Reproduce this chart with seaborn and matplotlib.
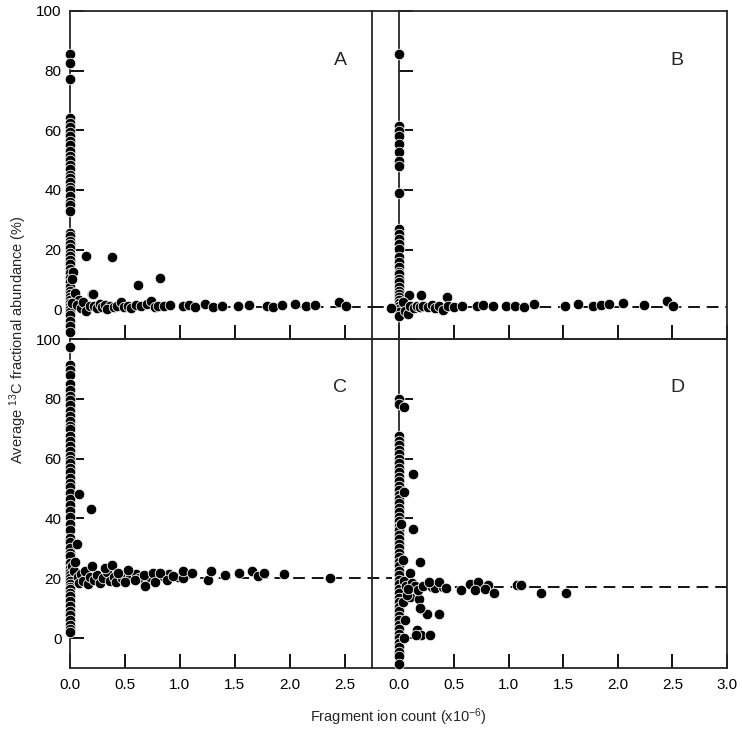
import matplotlib
matplotlib.use("Agg")
import matplotlib.pyplot as plt
import numpy as np
import pandas as pd
import seaborn as sns

# ---------------------------------------------------------------------------
# Data (x in 10^6 ion counts, y in % 13C)
# ---------------------------------------------------------------------------
PANELS = ["A", "B", "C", "D"]
MEAN_LINE = {"A": 0.8, "B": 0.8, "C": 20.0, "D": 17.0}

# points stacked on x = 0
a_col_y = [85.7, 82.4, 77.3, 64, 62.5, 61, 59.5, 58, 56.5, 55, 53, 51.5, 50, 48.5,
           47, 45, 44, 42.5, 41, 40, 38, 36, 35, 33, 25.5, 24.5, 23, 22, 20.5, 19,
           18, 16.5, 15, 13.5, 12, 10.5, 9, 7.5, 6, 5, 4, 3, 2, 1, 0, -1, -2, -4,
           -5.5, -7.5]
b_col_y = [85.7, 61.5, 59.8, 58.2, 55.4, 52.6, 49.7, 48.1, 38.8, 26.8, 25.2, 23.5,
           21.8, 20.2, 17.4, 15.7, 14, 12.5, 11.8, 10, 9, 7.3, 6, 5, 4, 3, 2, 1, 0,
           -1, -2.4]
c_col_y = [97.4, 91.3, 89.6, 87.9, 85, 83, 80.9, 79.5, 77.8, 76, 74.4, 72.5, 71,
           69.9, 67.7, 66, 64.3, 62.5, 61, 59.5, 58.7, 57, 55.4, 53.5, 52, 50.5,
           48.6, 46.4, 44.5, 42.5, 40.5, 38, 36, 33.5, 32, 30.2, 28.5, 27.4, 25.1,
           23.5, 22, 21, 20, 19, 18, 17, 16.3, 15, 14, 12.5, 10.6, 9, 7.8, 6, 4.4,
           3, 2.1]
d_col_y = [80, 78.3, 67.7, 66, 64.5, 63, 61.5, 60, 58.5, 57, 55.5, 54, 52.5, 51,
           49.5, 48, 46.5, 45, 43.5, 42, 40.5, 39, 37.5, 36, 34.5, 33, 31.5, 30,
           28.5, 27, 25.5, 24, 22.5, 21, 19.5, 18, 16.5, 15, 13.5, 12, 10.5, 9, 7.5,
           6, 4.5, 3, 1.5, 0, -1.5, -3, -4.5, -6, -8.5]

# scattered points
a_x = [0.03, 0.02, 0.05, 0.08, 0.02, 0.06, 0.10, 0.12, 0.15, 0.18, 0.20, 0.22,
       0.25, 0.27, 0.29, 0.32, 0.36, 0.34, 0.40, 0.43, 0.46, 0.49, 0.53, 0.56,
       0.60, 0.65, 0.70, 0.74, 0.77, 0.80, 0.86, 0.91,
       0.143, 0.38, 0.62, 0.82, 0.21,
       1.03, 1.08, 1.14, 1.23, 1.305, 1.38, 1.53, 1.63, 1.79, 1.85, 1.93, 2.05,
       2.15, 2.23, 2.45, 2.51]
a_y = [12.5, 10, 5.5, 3, 2, 1.5, 0.5, 2.5, -0.5, 1, 5, 1.2,
       0.3, 1.8, 0.8, 1.5, 1.2, 0.2, 0.6, 1.0, 2.4, 0.7, 1.1, 0.5,
       1.3, 0.9, 1.8, 2.7, 0.6, 1.0, 1.2, 1.5,
       17.8, 17.5, 8.0, 10.5, 5.0,
       0.9, 1.4, 0.7, 1.6, 0.8, 1.1, 0.9, 1.5, 1.0, 0.7, 1.4, 1.6,
       0.9, 1.3, 2.4, 0.9]

b_x = [-0.08, 0.085, 0.2, 0.436, 0.03, 0.05, 0.08, 0.10, 0.13, 0.16, 0.19, 0.22,
       0.26, 0.30, 0.33, 0.36, 0.40, 0.45, 0.50,
       0.573, 0.71, 0.77, 0.86, 0.98, 1.06, 1.14, 1.23, 1.517, 1.633, 1.77, 1.85,
       1.92, 2.05, 2.24, 2.45, 2.51]
b_y = [0.4, 4.9, 4.9, 4.0, 2.5, -0.5, -1.5, 1.0, 0.3, 1.2, 0.6, 1.1,
       0.8, 1.3, 0.4, 1.0, -0.4, 0.9, 0.7,
       1.2, 1.2, 1.4, 1.2, 1.2, 1.2, 0.8, 1.6, 1.0, 1.6, 1.2, 1.3,
       1.7, 2.0, 1.4, 2.8, 0.9]

c_x = [0.085, 0.19, 0.06,
       0.02, 0.04, 0.05, 0.07, 0.08, 0.10, 0.12, 0.14, 0.16, 0.18, 0.22, 0.25,
       0.27, 0.30, 0.34, 0.36, 0.40, 0.42, 0.47, 0.55, 0.60, 0.63, 0.72, 0.85,
       0.90, 0.98,
       0.20, 0.32, 0.38, 0.44, 0.53, 0.50, 0.59, 0.68, 0.67, 0.76, 0.77, 0.82,
       0.88, 0.94, 1.03, 1.03, 1.11, 1.26, 1.28, 1.41, 1.54, 1.66, 1.71, 1.77,
       1.95, 2.37]
c_y = [48.1, 43.2, 31.3,
       24, 22.5, 25.5, 20.5, 18.5, 21.5, 19, 22.5, 18, 20.5, 19.5, 21,
       18.5, 20, 22, 19.2, 20.5, 18.8, 20.2, 20.5, 21.5, 20, 20.5, 20.8,
       21.5, 20.3,
       24, 23.6, 24.3, 21.7, 22.9, 18.9, 19.5, 17.5, 21.2, 21.9, 18.9, 21.9,
       19.5, 20.8, 20.1, 22.3, 21.9, 19.5, 22.3, 21.2, 21.9, 22.3, 20.8, 21.7,
       21.5, 20.1]

d_x = [0.046, 0.04, 0.02, 0.03, 0.04, 0.06, 0.03, 0.05, 0.04,
       0.125, 0.125, 0.186, 0.10, 0.12, 0.10, 0.18, 0.20, 0.25, 0.36, 0.16,
       0.20, 0.28, 0.15, 0.07, 0.19, 0.14, 0.08, 0.17, 0.22, 0.30, 0.33, 0.40,
       0.268, 0.36, 0.43, 0.564, 0.65, 0.716, 0.695, 0.816, 0.786, 0.868,
       1.076, 1.11, 1.30, 1.53]
d_y = [77.2, 48.7, 38, 26, 19, 17.5, 12, 6, 0,
       55, 36.5, 25.3, 21.8, 18.5, 13.6, 13, 9.7, 8, 8.2, 2.6,
       0.9, 0.9, 0.9, 14.4, 9.9, 17.5, 16.5, 16.2, 17.5, 17.2, 16.6, 17.2,
       18.9, 18.6, 16.7, 16.1, 18.2, 18.7, 16.1, 17.8, 16.3, 15.2,
       17.8, 17.8, 15.2, 15.0]

COLUMN_Y = {"A": a_col_y, "B": b_col_y, "C": c_col_y, "D": d_col_y}
SCATTER = {"A": (a_x, a_y), "B": (b_x, b_y), "C": (c_x, c_y), "D": (d_x, d_y)}

# ---------------------------------------------------------------------------
sns.set_style("ticks")
plt.rcParams["font.family"] = ["Liberation Sans", "DejaVu Sans"]
plt.rcParams["mathtext.fontset"] = "custom"
plt.rcParams["mathtext.rm"] = "Liberation Sans"
plt.rcParams["mathtext.default"] = "regular"
plt.rcParams["axes.linewidth"] = 1.3

W, H = 742, 733
fig = plt.figure(figsize=(W / 100, H / 100), dpi=100)


def px_rect(x0, y0, x1, y1):
    return [x0 / W, 1 - y1 / H, (x1 - x0) / W, (y1 - y0) / H]


RECTS = {
    "A": px_rect(70, 11, 372, 339),
    "B": px_rect(372, 11, 727, 339),
    "C": px_rect(70, 339, 372, 668),
    "D": px_rect(372, 339, 727, 668),
}
XLIM = {"A": (0, 2.75), "B": (-0.25, 3.0), "C": (0, 2.75), "D": (-0.25, 3.0)}
LINE_START = {"A": 0.0, "B": -0.25, "C": 0.0, "D": 0.0}
LINE_END = {"A": 2.75, "B": 3.0, "C": 2.93, "D": 3.0}
LETTER_POS = {"A": (0.897, 0.85), "B": (0.86, 0.85), "C": (0.894, 0.854), "D": (0.86, 0.854)}

for p in PANELS:
    ax = fig.add_axes(RECTS[p])
    ax.patch.set_alpha(0)
    col_y = COLUMN_Y[p]
    sx, sy = SCATTER[p]
    df = pd.DataFrame({
        "x": [0.0] * len(col_y) + list(sx),
        "y": list(col_y) + list(sy),
    })
    ax.plot([LINE_START[p], LINE_END[p]], [MEAN_LINE[p]] * 2, color="black", lw=1.3,
            linestyle=(0, (6.5, 3.8)), zorder=2, clip_on=False)
    sns.scatterplot(data=df, x="x", y="y", ax=ax, color="black",
                    edgecolor="white", linewidth=0.6, s=58, zorder=4,
                    clip_on=False, legend=False)

    ax.set_xlim(*XLIM[p])
    ax.set_ylim(-10, 100)
    ax.set_xlabel("")
    ax.set_ylabel("")

    if p in ("B", "D"):
        ax.spines["left"].set_position(("data", 0))
        ax.set_xticks([0, 0.5, 1.0, 1.5, 2.0, 2.5, 3.0])
    else:
        ax.set_xticks([0, 0.5, 1.0, 1.5, 2.0, 2.5])
    ax.set_yticks([0, 20, 40, 60, 80, 100])
    ax.set_yticklabels(["0", "20", "40", "60", "80", "100"])
    ax.set_xticklabels([f"{t:.1f}" for t in ax.get_xticks()])

    ax.tick_params(direction="in", length=10, width=1.3, labelsize=11,
                   pad=7, colors="black")
    ax.tick_params(axis="y", pad=6)
    ax.tick_params(labelbottom=p in ("C", "D"), labelleft=p in ("A", "C"))
    for s in ax.spines.values():
        s.set_visible(True)
        s.set_linewidth(1.3)

    lx, ly = LETTER_POS[p]
    ax.text(lx, ly, p, transform=ax.transAxes, fontsize=14,
            ha="center", va="center")

fig.text(18 / W, 1 - 340 / H, "Average $^{13}$C fractional abundance (%)",
         rotation=90, ha="center", va="center", fontsize=10.5)
fig.text(398 / W, 1 - 717 / H, "Fragment ion count (x10$^{-6}$)",
         ha="center", va="center", fontsize=10.5)

fig.savefig("out.png", dpi=100)
plt.close(fig)
